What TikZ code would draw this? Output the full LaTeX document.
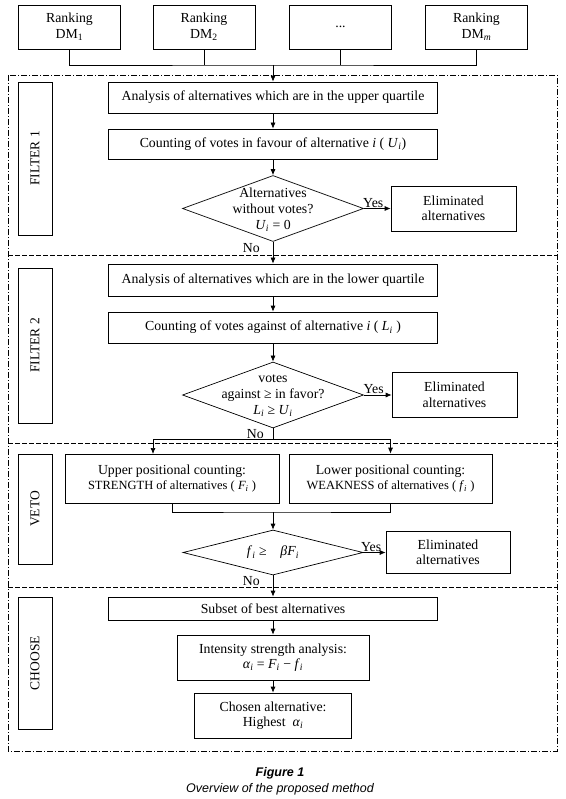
\documentclass[tikz,border=0pt]{standalone}
\usepackage{fontspec}
\setmainfont{Liberation Serif}
\newfontfamily\capfont{Liberation Sans}
\usepackage{tikz}
\usetikzlibrary{arrows.meta,shapes.geometric}

\newcommand{\iv}[2]{\textit{#1}\textsubscript{\textit{#2}}}

\begin{document}
\begin{tikzpicture}[x=1pt,y=-1pt,>={Latex[length=6pt,width=5pt]},
  box/.style={draw,line width=0.7pt,inner sep=0pt,align=center,font=\fontsize{13.8}{15.5}\selectfont},
  decision/.style={draw,diamond,line width=0.7pt,inner sep=0pt},
  dtext/.style={align=center,font=\fontsize{13.8}{16}\selectfont},
  side/.style={draw,line width=0.7pt,inner sep=0pt,rotate=90,minimum height=34pt,font=\fontsize{13.5}{15}\selectfont},
  frame/.style={line width=0.6pt,dash pattern=on 6pt off 2pt on 1pt off 2pt},
  sep/.style={line width=0.6pt,dash pattern=on 5pt off 2pt},
  conn/.style={line width=0.7pt},
  yesno/.style={font=\fontsize{13.8}{15}\selectfont,inner sep=1pt}]
\useasboundingbox (0,0) rectangle (565,799);

% decision makers
\node[box,minimum width=102pt,minimum height=44pt] (dm1) at (69.5,27) {Ranking\\DM\textsubscript{1}};
\node[box,minimum width=102pt,minimum height=44pt] (dm2) at (204,27) {Ranking\\DM\textsubscript{2}};
\node[box,minimum width=102pt,minimum height=44pt] (dm3) at (340.5,27) {...};
\node[box,minimum width=102pt,minimum height=44pt] (dm4) at (476.5,27) {Ranking\\DM\textsubscript{\textit{m}}};

% frames of the four stages
\draw[frame] (8,75) rectangle (557,751);
\draw[sep] (8,255) -- (557,255);
\draw[sep] (8,443) -- (557,443);
\draw[sep] (8,587) -- (557,587);

\node[side,minimum width=153pt] (s1) at (35,158.5) {FILTER 1};
\node[side,minimum width=155pt] (s2) at (35,345.5) {FILTER 2};
\node[side,minimum width=110pt] (s3) at (35,509) {VETO};
\node[side,minimum width=132pt] (s4) at (35,663) {CHOOSE};

% filter 1
\node[box,minimum width=329pt,minimum height=31pt] (an1) at (273,97.5) {Analysis of alternatives which are in the upper quartile};
\node[box,minimum width=329pt,minimum height=30pt] (cnt1) at (273,144) {Counting of votes in favour of alternative \textit{i} ( \iv{U}{i})};
\node[decision,minimum width=181pt,minimum height=66pt,
  label={[dtext,yshift=-1pt]center:Alternatives\\without votes?\\\iv{U}{i} = 0}] (d1) at (273,208.5) {};
\node[box,minimum width=125pt,minimum height=45pt] (el1) at (453.5,208.5) {Eliminated\\alternatives};

% filter 2
\node[box,minimum width=329pt,minimum height=32pt] (an2) at (273,280) {Analysis of alternatives which are in the lower quartile};
\node[box,minimum width=329pt,minimum height=31pt] (cnt2) at (273,327.5) {Counting of votes against of alternative \textit{i} ( \iv{L}{i} )};
\node[decision,minimum width=181pt,minimum height=66pt,
  label={[dtext,yshift=-1pt]center:votes\\against ≥ in favor?\\\iv{L}{i} ≥ \iv{U}{i}}] (d2) at (273,395) {};
\node[box,minimum width=125pt,minimum height=45pt] (el2) at (454.5,395) {Eliminated\\alternatives};

% veto
\node[box,minimum width=214pt,minimum height=49pt] (up) at (172,478.5) {Upper positional counting:\\{\fontsize{12.5}{15}\selectfont STRENGTH of alternatives ( \iv{F}{i} )}};
\node[box,minimum width=203pt,minimum height=49pt] (low) at (390.5,478.5) {Lower positional counting:\\{\fontsize{12.5}{15}\selectfont WEAKNESS of alternatives ( \iv{f}{i} )}};
\node[decision,minimum width=180pt,minimum height=45pt,
  label={[dtext]center:\iv{f}{i} ≥\quad \textit{β}\iv{F}{i}}] (d3) at (273,552.5) {};
\node[box,minimum width=124pt,minimum height=42pt] (el3) at (448,552.5) {Eliminated\\alternatives};

% choose
\node[box,minimum width=329pt,minimum height=23pt] (sub) at (273,608.5) {Subset of best alternatives};
\node[box,minimum width=192pt,minimum height=45pt] (int) at (273,657.5) {Intensity strength analysis:\\\iv{α}{i} = \iv{F}{i} − \iv{f}{i}};
\node[box,minimum width=157pt,minimum height=45pt] (cho) at (273,715.5) {Chosen alternative:\\Highest \ \iv{α}{i}};

% connectors
\coordinate (j0) at (273,65);
\draw[conn] (dm1.south) |- (j0) -| (dm4.south);
\draw[conn] (dm2.south) -- (dm2.south |- j0);
\draw[conn] (dm3.south) -- (dm3.south |- j0);
\draw[conn,->] (j0) -- (an1.north);
\draw[conn,->] (an1) -- (cnt1);
\draw[conn,->] (cnt1) -- (d1);
\draw[conn,->] (d1.east) -- node[yesno,pos=0.35,above] {Yes} (el1.west);
\draw[conn,->] (d1.south) -- (an2.north);
\node[yesno,anchor=north east,xshift=-12pt] at (d1.south) {No};
\draw[conn,->] (an2) -- (cnt2);
\draw[conn,->] (cnt2) -- (d2);
\draw[conn,->] (d2.east) -- node[yesno,pos=0.35,above] {Yes} (el2.west);
\node[yesno,anchor=north east,xshift=-8pt] at (d2.south) {No};
\coordinate (b2) at (273,439);
\coordinate (upin) at (153,454);
\draw[conn] (d2.south) -- (b2);
\draw[conn,->] (b2) -| (upin);
\draw[conn,->] (b2) -| (low.north);
\coordinate (m3) at (273,512);
\draw[conn] (up.south) |- (m3) -| (low.south);
\draw[conn,->] (m3) -- (d3.north);
\draw[conn,->] (d3.east) -- node[yesno,pos=0.35,above] {Yes} (el3.west);
\draw[conn,->] (d3.south) -- (sub.north);
\node[yesno,anchor=north east,xshift=-12pt] at (d3.south) {No};
\draw[conn,->] (sub) -- (int);
\draw[conn,->] (int) -- (cho);

% caption
\node[font=\capfont\bfseries\itshape\fontsize{12.5}{14}\selectfont] (fig) at (280,773) {Figure 1};
\node[font=\capfont\itshape\fontsize{12.5}{14}\selectfont] (cap) at (280,789) {Overview of the proposed method};
\end{tikzpicture}
\end{document}
